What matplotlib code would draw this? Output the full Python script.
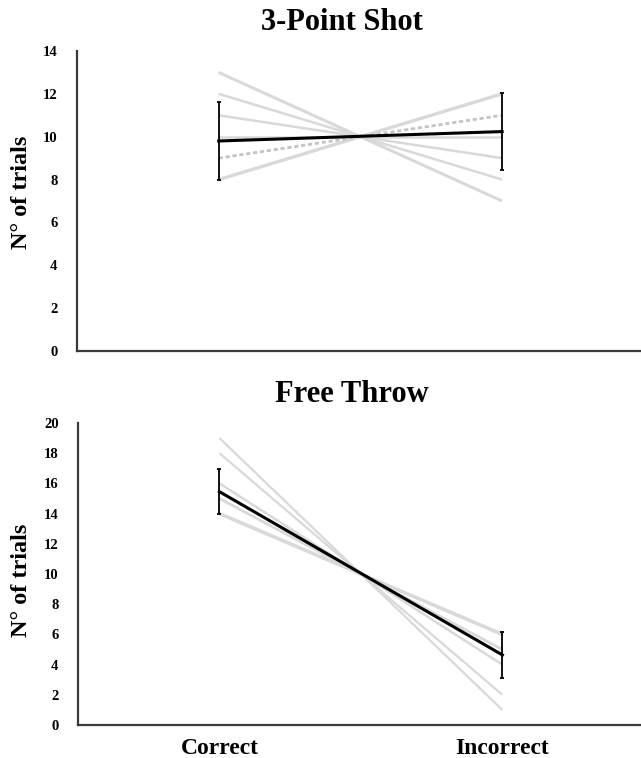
import matplotlib
matplotlib.use("Agg")
import matplotlib.pyplot as plt

categories = ["Correct", "Incorrect"]

# 3-Point Shot: individual participants (correct, incorrect)
three_correct = [13, 12, 11, 10, 8]
three_incorrect = [7, 8, 9, 10, 12]
three_dashed_correct = [9]
three_dashed_incorrect = [11]
three_mean = [9.8, 10.24]
three_sd = [1.8, 1.8]

# Free Throw: individual participants (correct, incorrect)
free_correct = [19, 18, 16, 15, 14]
free_incorrect = [1, 2, 4, 5, 6]
free_mean = [15.45, 4.64]
free_sd = [1.5, 1.54]

three_yticks = [0, 2, 4, 6, 8, 10, 12, 14]
free_yticks = [0, 2, 4, 6, 8, 10, 12, 14, 16, 18, 20]

plt.rcParams['font.family'] = ['Liberation Serif', 'DejaVu Serif']
plt.rcParams['font.weight'] = 'bold'

fig = plt.figure(figsize=(6.41, 7.58), dpi=100)
W, H = 641, 758

def add_axes(x0, y_top, x1, y_bot):
    return fig.add_axes([x0 / W, 1 - y_bot / H, (x1 - x0) / W, (y_bot - y_top) / H])

ax1 = add_axes(77, 51, 641, 351)
ax2 = add_axes(78, 423, 641, 725)

gray = "#d9d9d9"
xs = [0, 1]

def style(ax, yticks, ylim):
    ax.set_xlim(-0.5, 1.49)
    ax.set_ylim(*ylim)
    ax.set_yticks(yticks)
    ax.set_yticklabels([str(t) for t in yticks], fontsize=10.5, fontweight='bold')
    ax.tick_params(axis='y', length=0, pad=14)
    for s in ['top', 'right']:
        ax.spines[s].set_visible(False)
    for s in ['left', 'bottom']:
        ax.spines[s].set_color('#3a3a3a')
        ax.spines[s].set_linewidth(1.6)

# Top panel
lw_top = [2.2, 1.8, 1.8, 1.8, 2.4]
for c, i, lw in zip(three_correct, three_incorrect, lw_top):
    ax1.plot(xs, [c, i], color=gray, lw=lw, zorder=1, solid_capstyle='butt')
for c, i in zip(three_dashed_correct, three_dashed_incorrect):
    ax1.plot(xs, [c, i], color="#c4c4c4", lw=2.0, ls=(0, (1.5, 1)), zorder=1)
ax1.errorbar(xs, three_mean, yerr=three_sd, color='black', lw=2.2,
             elinewidth=1.3, capsize=1.6, capthick=1.3, zorder=3)
style(ax1, three_yticks, (0, 14))
ax1.set_xticks([])

# Bottom panel
lw_bot = [1.6, 1.6, 1.8, 2.0, 2.6]
for c, i, lw in zip(free_correct, free_incorrect, lw_bot):
    ax2.plot(xs, [c, i], color=gray, lw=lw, zorder=1, solid_capstyle='butt')
ax2.errorbar(xs, free_mean, yerr=free_sd, color='black', lw=2.2,
             elinewidth=1.3, capsize=1.6, capthick=1.3, zorder=3)
style(ax2, free_yticks, (0, 20))
ax2.set_xticks(xs)
ax2.set_xticklabels(categories, fontsize=17, fontweight='bold')
ax2.tick_params(axis='x', length=0, pad=9)

# Titles and y labels
fig.text(342 / W, 1 - 23 / H, "3-Point Shot", ha='center', va='center',
         fontsize=22, fontweight='bold')
fig.text(352 / W, 1 - 394 / H, "Free Throw", ha='center', va='center',
         fontsize=22, fontweight='bold')
fig.text(22 / W, 1 - 192 / H, "N° of trials", ha='center', va='center',
         rotation=90, fontsize=17.5, fontweight='bold')
fig.text(22 / W, 1 - 580 / H, "N° of trials", ha='center', va='center',
         rotation=90, fontsize=17.5, fontweight='bold')

fig.savefig("out.png", dpi=100)
